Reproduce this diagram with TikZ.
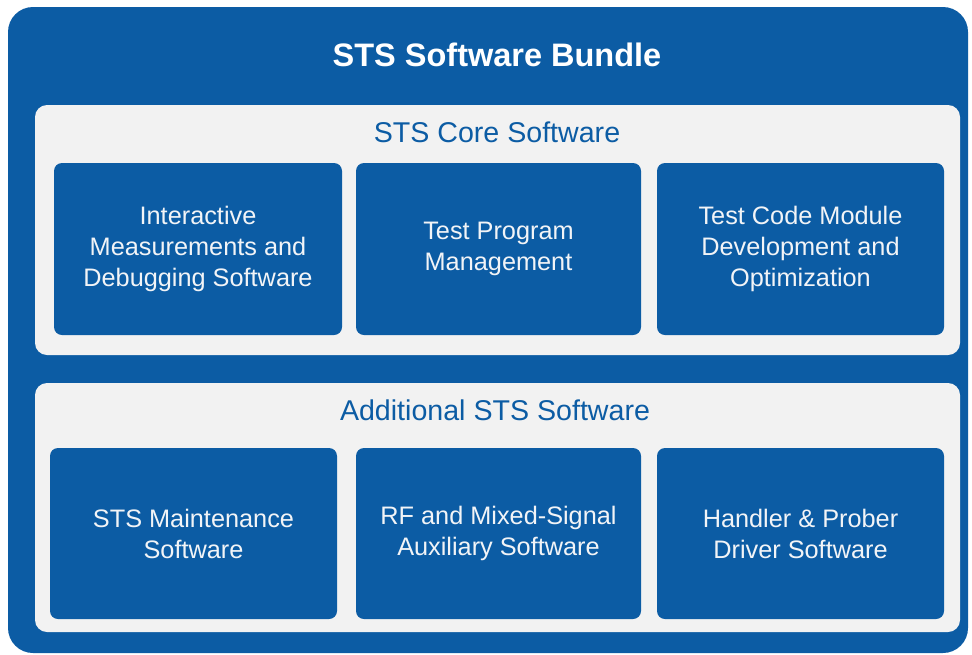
\documentclass[tikz,border=0pt]{standalone}
\usepackage{fontspec}
\setmainfont{Liberation Sans}
\definecolor{stsblue}{HTML}{0C5CA4}
\definecolor{panelgray}{HTML}{F2F2F2}
\definecolor{boxtext}{HTML}{F2F4F7}
\begin{document}
\begin{tikzpicture}[x=1pt,y=-1pt,
  outerbox/.style={fill=stsblue,draw=none,rounded corners=25pt},
  panel/.style={fill=panelgray,draw=none,rounded corners=12pt},
  swbox/.style={fill=stsblue,draw=none,rounded corners=8pt,anchor=center,
    minimum width=287pt,minimum height=172pt,inner sep=0pt,
    text=boxtext,align=center,font=\fontsize{25.3}{31}\selectfont},
  paneltitle/.style={text=stsblue,font=\fontsize{28.6}{32}\selectfont,inner sep=0pt},
  maintitle/.style={text=white,font=\fontsize{32.5}{38}\selectfont\bfseries,inner sep=0pt}]
\useasboundingbox (0,0) rectangle (972,654);
\fill[white] (0,0) rectangle (972,654);
\path[outerbox] (8,7) rectangle (968,653);
\node[maintitle] (title) at (497,55) {STS Software Bundle};
\path[panel] (35,105) rectangle (960,355);
\node[paneltitle] (coretitle) at (497,132) {STS Core Software};
\path[panel] (35,383) rectangle (960,632);
\node[paneltitle] (addtitle) at (495,410) {Additional STS Software};
\node[swbox,minimum width=288pt] (c1) at (198,249) {Interactive\\Measurements and\\Debugging Software};
\node[swbox,minimum width=285pt] (c2) at (498.5,249) {Test Program\\Management};
\node[swbox] (c3) at (800.5,249) {Test Code Module\\Development and\\Optimization};
\node[swbox,minimum height=171pt] (a1) at (193.5,533.5) {STS Maintenance\\Software};
\node[swbox,minimum width=285pt,minimum height=171pt] (a2) at (498.5,533.5) {RF and Mixed-Signal\\Auxiliary Software};
\node[swbox,minimum height=171pt] (a3) at (800.5,533.5) {Handler \& Prober\\Driver Software};
\end{tikzpicture}
\end{document}
